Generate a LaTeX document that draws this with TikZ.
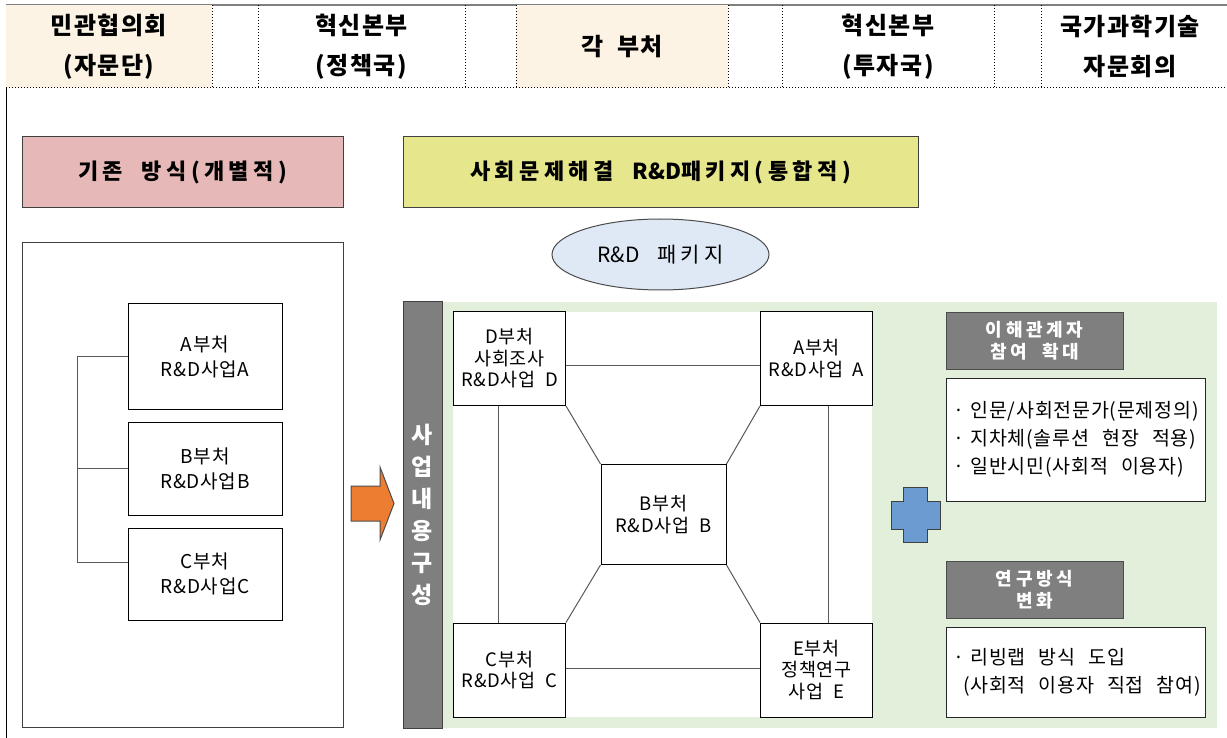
\documentclass[tikz,border=0pt]{standalone}
\usepackage{xcolor}
\usepackage{fontspec}
\setmainfont{Noto Sans CJK KR}
\newfontfamily\headfont[LetterSpace=6]{Noto Sans CJK KR}
\newfontfamily\widefont[LetterSpace=20]{Noto Sans CJK KR}
\newfontfamily\boxfont[LetterSpace=4]{Noto Sans CJK KR}
\usepackage{tikz}
\usetikzlibrary{shapes.geometric, positioning}

\definecolor{beige}{RGB}{252,243,228}
\definecolor{pinkbox}{RGB}{230,184,183}
\definecolor{yellowbox}{RGB}{230,230,140}
\definecolor{ellfill}{RGB}{222,233,245}
\definecolor{greenbg}{RGB}{226,239,218}
\definecolor{barfill}{RGB}{127,127,127}
\definecolor{arrowfill}{RGB}{237,125,49}
\definecolor{crossfill}{RGB}{108,155,210}

\newcommand{\rd}{{\normalfont R\&D}}
\newcommand{\rdb}{{\normalfont\bfseries R\&D}}

\begin{document}
\begin{tikzpicture}
  [
    x=1pt, y=-1pt,
    Head/.style={align=center, inner sep=0, font=\headfont\fontsize{24}{40}\selectfont\bfseries},
    Cell/.style={rectangle, fill=beige, minimum width=206, minimum height=83},
    Title/.style={rectangle, draw=black!75, line width=1pt, inner sep=0, minimum width=321, minimum height=71, font=\widefont\fontsize{22}{25}\selectfont\bfseries},
    Box/.style={rectangle, draw=black, line width=1pt, fill=white, inner sep=0, minimum width=154, align=center, font=\boxfont\fontsize{19}{25}\selectfont},
    Small/.style={rectangle, draw=black, line width=1pt, fill=white, inner sep=0, minimum width=112, minimum height=94, align=center, font=\boxfont\fontsize{18.5}{21.5}\selectfont},
    Label/.style={rectangle, draw=black!70, line width=1pt, fill=barfill, text=white, inner sep=0, minimum width=177, minimum height=57, align=center, font=\widefont\fontsize{18}{22}\selectfont\bfseries},
    List/.style={rectangle, draw=black!85, line width=1pt, fill=white, inner xsep=7, inner ysep=0, text width=245, align=left, font=\boxfont\fontsize{19.5}{28}\selectfont},
    Line/.style={draw=black!65, line width=1pt}
  ]
  \useasboundingbox (0,0) rectangle (1227,738);

  % Frame
  \draw[black!50, line width=1.5pt] (6,5) -- (1227,5);
  \draw[black, line width=1pt] (6,5) -- (6,738);
  \node[Cell, Head] (h1) at (109,46.5) {민관협의회\\(자문단)};
  \node[Head] (h2) at (361.5,46.5) {혁신본부\\(정책국)};
  \node[Cell, Head, minimum width=212] (h3) at (622,46.5) {각~~부처};
  \node[Head] (h4) at (888,46.5) {혁신본부\\(투자국)};
  \node[Head] (h5) at (1130,46.5) {국가과학기술\\자문회의};
  \foreach \x in {212,258,465,516,728,782,994,1041}
    \draw[dotted, line width=1pt] (\x,5) -- (\x,88);
  \draw[dotted, line width=1pt] (6,88) -- (1227,88);

  % Titles
  \node[Title, fill=pinkbox] (old) at (182.5,172.5) {기존~~방식(개별적)};
  \node[Title, fill=yellowbox, minimum width=515] (new) at (660.5,172.5) {사회문제해결~~\rdb 패키지(통합적)};
  \node[ellipse, draw=black!70, line width=1pt, fill=ellfill, inner sep=0, minimum width=217, minimum height=71,
        font=\widefont\fontsize{21}{24}\selectfont] (pkg) at (660.5,254.5) {\rd~~패키지};

  % Old way
  \node[Box, draw=black!75, minimum width=321, minimum height=484] (oldbox) at (182.5,485) {};
  \node[Box, minimum height=105] (la) at (205,356.5) {A부처\\R\&D사업A};
  \node[Box, minimum height=93] (lb) at (205,468.5) {B부처\\R\&D사업B};
  \node[Box, minimum height=92] (lc) at (205,574) {C부처\\R\&D사업C};
  \coordinate (tree) at (77,0);

  % Arrow
  \path[draw=black!70, line width=1pt, fill=arrowfill]
    (351,486) -- (380,486) -- (380,467) -- (394,503.5) -- (380,540) -- (380,521) -- (351,521) -- cycle;

  % Package
  \fill[greenbg] (442,302) rectangle (1217,728);
  \fill[white] (453,312) rectangle (872,717);
  \node[rectangle, draw=black!75, line width=1pt, fill=barfill, inner sep=0, minimum width=39, minimum height=426,
        text=white, align=center, font=\fontsize{23}{32}\selectfont\bfseries] (bar) at (422.5,515) {사\\업\\내\\용\\구\\성};
  \node[Small] (d) at (509.5,358.5) {D부처\\사회조사\\R\&D사업~~D};
  \node[Small] (a) at (816.5,358.5) {A부처\\R\&D사업~~A};
  \node[Small] (c) at (509.5,670) {C부처\\R\&D사업~~C};
  \node[Small] (e) at (816.5,670) {E부처\\정책연구\\사업~~E};
  \node[Small, minimum width=125, minimum height=100] (b) at (663.5,514.5) {B부처\\R\&D사업~~B};

  % Cross
  \path[draw=black!75, line width=1pt, fill=crossfill]
    (903,487) -- (927,487) -- (927,501) -- (940,501) -- (940,529) -- (927,529) -- (927,542)
    -- (903,542) -- (903,529) -- (891,529) -- (891,501) -- (903,501) -- cycle;

  % Right side
  \node[Label] (l1) at (1034.5,341) {이해관계자\\참여~~확대};
  \node[List, minimum height=123] (t1) at (1075.5,439.5)
    {· 인문/사회전문가(문제정의)\\· 지차체(솔루션~~현장~~적용)\\· 일반시민(사회적~~이용자)};
  \node[Label] (l2) at (1034.5,589.5) {연구방식\\변화};
  \node[List, minimum height=90] (t2) at (1075.5,672)
    {· 리빙랩~~방식~~도입\\\hspace*{10pt}(사회적~~이용자~~직접~~참여)};

  % Lines
  \path [Line] (la.west) -- (la.west -| tree) |- ([yshift=12]lc.west);
  \path [Line] (lb.west) -- (lb.west -| tree);
  \path [Line] ([yshift=-6.5]d.east) -- ([yshift=-6.5]a.west);
  \path [Line] ([yshift=2]c.east) -- ([yshift=2]e.west);
  \path [Line] ([xshift=-11.5]d.south) -- ([xshift=-11.5]c.north);
  \path [Line] ([xshift=11.5]a.south) -- ([xshift=11.5]e.north);
  \path [Line] (d.south east) -- (b.north west);
  \path [Line] (a.south west) -- (b.north east);
  \path [Line] (c.north east) -- (b.south west);
  \path [Line] (e.north west) -- (b.south east);

\end{tikzpicture}
\end{document}
